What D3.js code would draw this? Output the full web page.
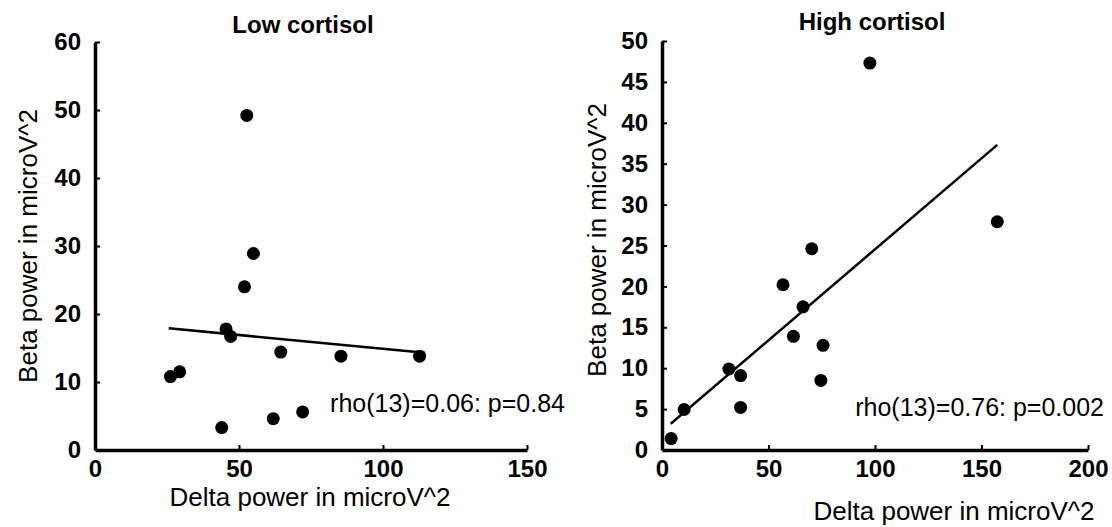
<!DOCTYPE html>
<html>
<head>
<meta charset="utf-8">
<script src="https://cdn.jsdelivr.net/npm/d3@7/dist/d3.min.js"></script>
<style>
  html, body { margin: 0; padding: 0; background: #fff; }
  svg { display: block; }
  text { font-family: "Liberation Sans", Arial, sans-serif; fill: #000; }
</style>
</head>
<body>
<svg id="chart" width="1112" height="527"></svg>
<script>
// ---- data ----
const lowDelta  = [52.7, 55.0, 51.9, 45.5, 47.1, 64.5, 85.4, 112.7, 26.2, 29.4, 44.0, 61.9, 72.1];
const lowBeta   = [49.2, 28.9, 24.0, 17.8, 16.7, 14.4, 13.8, 13.8, 10.8, 11.5, 3.3, 4.6, 5.6];
const highDelta = [97.6, 157.4, 70.3, 56.8, 66.2, 61.7, 75.6, 31.4, 36.9, 74.6, 10.4, 36.9, 4.3];
const highBeta  = [47.3, 27.9, 24.6, 20.2, 17.5, 13.9, 12.8, 9.9, 9.1, 8.5, 4.95, 5.2, 1.4];
const lowFitX   = [25.6, 114.5];
const lowFitY   = [17.9, 14.3];
const highFitX  = [4.1, 157.4];
const highFitY  = [3.2, 37.3];
const lowXTicks  = [0, 50, 100, 150];
const lowYTicks  = [0, 10, 20, 30, 40, 50, 60];
const highXTicks = [0, 50, 100, 150, 200];
const highYTicks = [0, 5, 10, 15, 20, 25, 30, 35, 40, 45, 50];
const titles = ["Low cortisol", "High cortisol"];
const xLabel = "Delta power in microV^2";
const yLabel = "Beta power in microV^2";
const stats = ["rho(13)=0.06: p=0.84", "rho(13)=0.76: p=0.002"];

const svg = d3.select("#chart");

const panels = [
  { xs: lowDelta, ys: lowBeta, fx: lowFitX, fy: lowFitY, xt: lowXTicks, yt: lowYTicks,
    xDom: [0, 150], yDom: [0, 60], xR: [95, 527], yR: [450, 42],
    title: titles[0], titleX: 303, titleY: 33, yLabX: 37, yLabC: 246, xLabX: 310, xLabY: 506,
    stat: stats[0], statX: 565, statY: 412 },
  { xs: highDelta, ys: highBeta, fx: highFitX, fy: highFitY, xt: highXTicks, yt: highYTicks,
    xDom: [0, 200], yDom: [0, 50], xR: [662, 1088], yR: [450, 41],
    title: titles[1], titleX: 872, titleY: 30, yLabX: 606, yLabC: 240, xLabX: 954, xLabY: 520,
    stat: stats[1], statX: 1104, statY: 416 }
];

panels.forEach(p => {
  const x = d3.scaleLinear().domain(p.xDom).range(p.xR);
  const y = d3.scaleLinear().domain(p.yDom).range(p.yR);
  const g = svg.append("g");

  // axes
  const xAxis = g.append("g").attr("transform", `translate(0,${p.yR[0]})`)
    .call(d3.axisBottom(x).tickValues(p.xt).tickSize(-5).tickSizeOuter(0).tickPadding(10).tickFormat(d3.format("d")));
  const yAxis = g.append("g").attr("transform", `translate(${p.xR[0]},0)`)
    .call(d3.axisLeft(y).tickValues(p.yt).tickSize(-5).tickSizeOuter(0).tickPadding(14).tickFormat(d3.format("d")));
  [xAxis, yAxis].forEach(a => {
    a.select(".domain").attr("stroke", "#000").attr("stroke-width", 3.5);
    a.selectAll(".tick line").attr("stroke", "#000").attr("stroke-width", 2);
    a.selectAll(".tick text").style("font-size", "24px").style("font-weight", "bold")
      .style("font-family", '"Liberation Sans", Arial, sans-serif').attr("fill", "#000");
  });
  xAxis.selectAll(".tick").filter(d => d === 0).select("line").remove();
  yAxis.selectAll(".tick").filter(d => d === 0).select("line").remove();

  // fit line
  g.append("line")
    .attr("x1", x(p.fx[0])).attr("y1", y(p.fy[0]))
    .attr("x2", x(p.fx[1])).attr("y2", y(p.fy[1]))
    .attr("stroke", "#000").attr("stroke-width", 2.5);

  // points
  g.selectAll("circle.pt").data(p.xs.map((v, i) => [v, p.ys[i]])).enter()
    .append("circle").attr("class", "pt")
    .attr("cx", d => x(d[0])).attr("cy", d => y(d[1])).attr("r", 6.5).attr("fill", "#000");

  // texts
  g.append("text").attr("x", p.titleX).attr("y", p.titleY).attr("text-anchor", "middle")
    .style("font-size", "24px").style("font-weight", "bold").text(p.title);
  g.append("text").attr("x", p.xLabX).attr("y", p.xLabY).attr("text-anchor", "middle")
    .style("font-size", "26px").text(xLabel);
  g.append("text").attr("transform", `translate(${p.yLabX},${p.yLabC}) rotate(-90)`)
    .attr("text-anchor", "middle").style("font-size", "26px").text(yLabel);
  g.append("text").attr("x", p.statX).attr("y", p.statY).attr("text-anchor", "end")
    .style("font-size", "25px").text(p.stat);
});
</script>
</body>
</html>
